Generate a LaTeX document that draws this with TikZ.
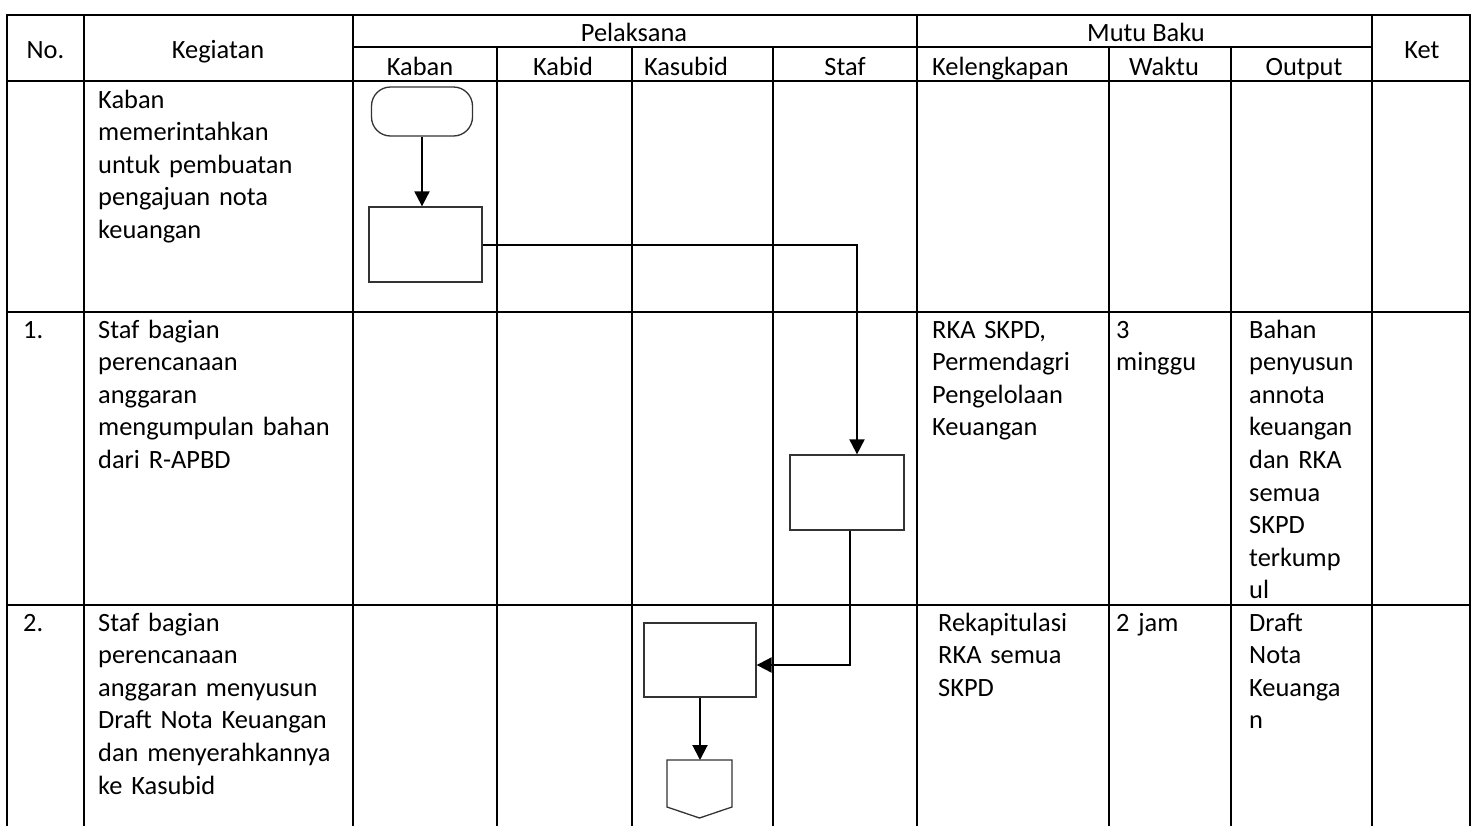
\documentclass[tikz,border=0pt]{standalone}
\usepackage{fontspec}
\setmainfont{Carlito}
\usetikzlibrary{arrows.meta}
\newcommand\cellfont{\fontsize{26.4}{32.6}\selectfont}

\begin{document}
\begin{tikzpicture}[x=1pt, y=-1pt,
  grid/.style={line width=2.2pt, line cap=rect},
  head/.style={anchor=base, inner sep=0pt, font=\cellfont},
  txt/.style={anchor=north west, inner sep=0pt, align=left, text width=250pt, font=\cellfont},
  box/.style={draw=black!80, line width=1.3pt, fill=white, inner sep=0pt, minimum width=113pt, minimum height=75pt},
  flow/.style={line width=2pt, -{Triangle[length=15pt, width=15pt]}}]

\useasboundingbox (0,0) rectangle (1473,825);

% Table lines
\foreach \y in {15,81,312,605}
  \draw[grid] (7,\y) -- (1470,\y);
\draw[grid] (353,47) -- (1372,47);
\foreach \x in {7,84,353,917,1372,1470}
  \draw[grid] (\x,15) -- (\x,825);
\foreach \x in {497,632,773,1109,1231}
  \draw[grid] (\x,47) -- (\x,825);

% Header
\node[head] (hno) at (45.5,58) {No.};
\node[head] (hkeg) at (218,58) {Kegiatan};
\node[head] (hpel) at (634,41) {Pelaksana};
\node[head] (hmutu) at (1146,41) {Mutu Baku};
\node[head] (hket) at (1422,58) {Ket};
\node[head] (hkaban) at (420,75) {Kaban};
\node[head] (hkabid) at (563,75) {Kabid};
\node[head] (hkasubid) at (686,75) {Kasubid};
\node[head] (hstaf) at (845,75) {Staf};
\node[head, anchor=base west] (hkel) at (932,75) {Kelengkapan};
\node[head] (hwaktu) at (1164,75) {Waktu};
\node[head] (houtput) at (1304,75) {Output};

% Row 0
\node[txt] (keg0) at (98,85) {\strut Kaban\\memerintahkan\\untuk pembuatan\\pengajuan nota\\keuangan};

% Row 1
\node[txt] (no1) at (23,315) {\strut 1.};
\node[txt] (keg1) at (98,315) {\strut Staf bagian\\perencanaan\\anggaran\\mengumpulan bahan\\dari R-APBD};
\node[txt] (kel1) at (932,315) {\strut RKA SKPD,\\Permendagri\\Pengelolaan\\Keuangan};
\node[txt] (wkt1) at (1116,315) {\strut 3\\minggu};
\node[txt] (out1) at (1249,315) {\strut Bahan\\penyusun\\annota\\keuangan\\dan RKA\\semua\\SKPD\\terkump\\ul};

% Row 2
\node[txt] (no2) at (23,608) {\strut 2.};
\node[txt] (keg2) at (98,608) {\strut Staf bagian\\perencanaan\\anggaran menyusun\\Draft Nota Keuangan\\dan menyerahkannya\\ke Kasubid};
\node[txt] (kel2) at (938,608) {\strut Rekapitulasi\\RKA semua\\SKPD};
\node[txt] (wkt2) at (1116,608) {\strut 2 jam};
\node[txt] (out2) at (1249,608) {\strut Draft\\Nota\\Keuanga\\n};

% Flow symbols
\node[box, rounded corners=19pt, minimum width=101pt, minimum height=49pt] (start) at (422,111.5) {};
\node[box] (kaban) at (425.5,244.5) {};
\node[box, minimum width=114pt] (staf) at (847,492.5) {};
\node[box, minimum width=112pt, minimum height=74pt] (kasubid) at (700,660) {};
\draw[draw=black!80, line width=1.3pt] (667,760) -- (732,760) -- (732,807) -- (699.5,818) -- (667,807) -- cycle;
\coordinate (offpage) at (700,760);

% Connectors
\draw[flow] (start.south) -- (start.south |- kaban.north);
\draw[flow] (kaban.east) -| ([xshift=10pt]staf.north);
\draw[flow] ([xshift=3pt]staf.south) |- ([yshift=-5pt]kasubid.east);
\draw[flow] (kasubid.south) -- (offpage);

\end{tikzpicture}
\end{document}
